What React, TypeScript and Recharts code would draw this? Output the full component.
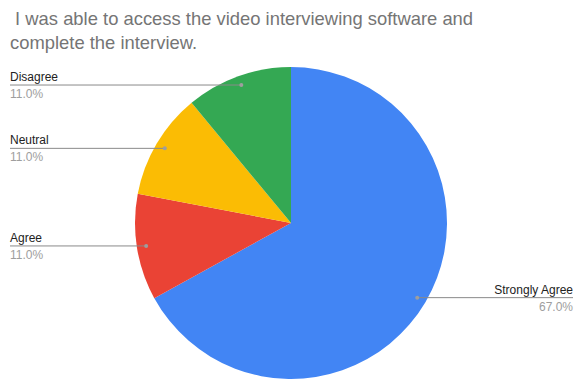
import { PieChart, Pie, Cell } from "recharts";

const categories = ["Strongly Agree", "Agree", "Neutral", "Disagree"];
const shares = [67, 11, 11, 11];
const COLORS = ["#4285F4", "#EA4335", "#FBBC04", "#34A853"];

const data = categories.map((name, i) => ({ name, value: shares[i] }));

const RAD = Math.PI / 180;
const W = 574;
const H = 381;

function renderLabel(props: any) {
  const { cx, cy, midAngle, outerRadius, name, value } = props;
  const r = outerRadius * 0.94;
  const x = cx + r * Math.cos(-midAngle * RAD);
  const y = cy + r * Math.sin(-midAngle * RAD);
  const right = x > cx;
  const edge = right ? W - 1 : 10;
  return (
    <g>
      <line x1={x} y1={y} x2={edge} y2={y} stroke="#8a8a8a" strokeWidth={1} />
      <circle cx={x} cy={y} r={2} fill="#9e9e9e" />
      <text
        x={edge}
        y={y - 4}
        textAnchor={right ? "end" : "start"}
        fontSize={12}
        fill="#222"
        fontFamily="'Liberation Sans', Arial, sans-serif"
      >
        {name}
      </text>
      <text
        x={edge}
        y={y + 13}
        textAnchor={right ? "end" : "start"}
        fontSize={12}
        fill="#9e9e9e"
        fontFamily="'Liberation Sans', Arial, sans-serif"
      >
        {value.toFixed(1)}%
      </text>
    </g>
  );
}

export default function App() {
  return (
    <div
      style={{
        position: "absolute",
        top: 0,
        left: 0,
        width: W,
        height: H,
        background: "#fff",
        fontFamily: "'Liberation Sans', Arial, sans-serif",
      }}
    >
      <div
        style={{
          position: "absolute",
          top: 7,
          left: 10,
          fontSize: 18.4,
          lineHeight: "24px",
          color: "#757575",
          whiteSpace: "pre",
        }}
      >
        {" I was able to access the video interviewing software and\ncomplete the interview."}
      </div>
      <PieChart
        width={W}
        height={H}
        margin={{ top: 0, right: 0, bottom: 0, left: 0 }}
        style={{ position: "absolute", top: 0, left: 0 }}
      >
        <Pie
          data={data}
          dataKey="value"
          nameKey="name"
          cx={291}
          cy={223}
          outerRadius={156}
          startAngle={90}
          endAngle={-270}
          stroke="none"
          label={renderLabel}
          labelLine={false}
          isAnimationActive={false}
        >
          {data.map((d, i) => (
            <Cell key={d.name} fill={COLORS[i]} />
          ))}
        </Pie>
      </PieChart>
    </div>
  );
}
